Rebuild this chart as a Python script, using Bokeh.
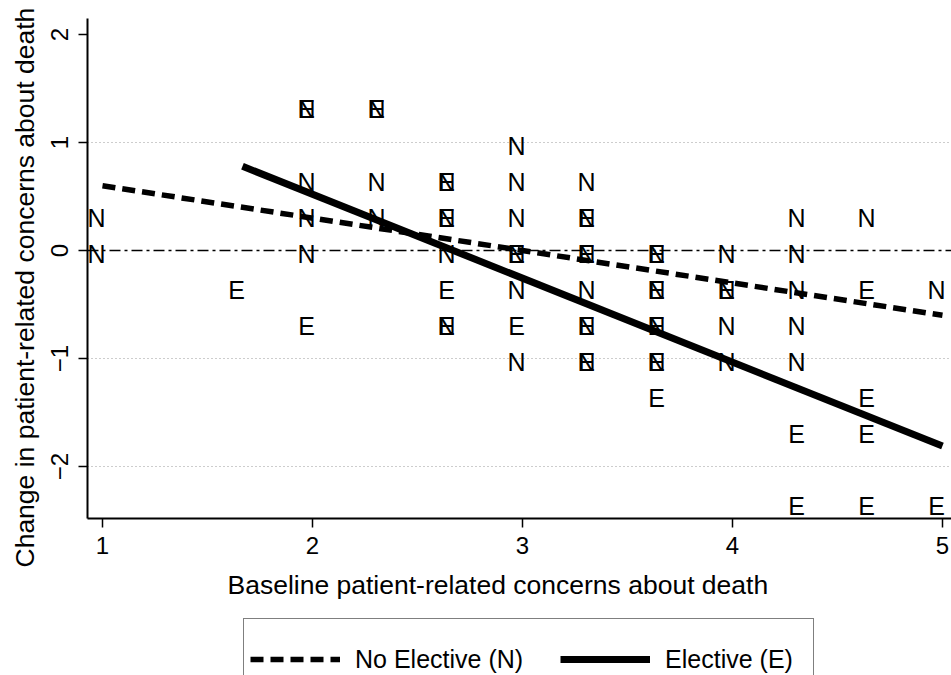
from bokeh.plotting import figure
from bokeh.layouts import column
from bokeh.models import Range1d, FixedTicker, Span, Legend, LegendItem, Title
from bokeh.core.properties import value
from bokeh.embed import file_html
from bokeh.resources import INLINE

T = 1.0 / 3.0

# No Elective (N) observations: baseline score, change score
n_x = [1, 1,
       2, 2, 2, 2,
       2 + T, 2 + T, 2 + T,
       2 + 2*T, 2 + 2*T, 2 + 2*T, 2 + 2*T,
       3, 3, 3, 3, 3, 3,
       3 + T, 3 + T, 3 + T, 3 + T, 3 + T, 3 + T,
       3 + 2*T, 3 + 2*T, 3 + 2*T, 3 + 2*T,
       4, 4, 4, 4,
       4 + T, 4 + T, 4 + T, 4 + T, 4 + T,
       4 + 2*T,
       5]
n_y = [T, 0,
       1 + T, 2*T, T, 0,
       1 + T, 2*T, T,
       2*T, T, 0, -2*T,
       1, 2*T, T, 0, -T, -1,
       2*T, T, 0, -T, -2*T, -1,
       0, -T, -2*T, -1,
       0, -T, -2*T, -1,
       T, 0, -T, -2*T, -1,
       T,
       -T]

# Elective (E) observations
e_x = [1 + 2*T,
       2, 2,
       2 + T,
       2 + 2*T, 2 + 2*T, 2 + 2*T, 2 + 2*T,
       3, 3,
       3 + T, 3 + T, 3 + T, 3 + T,
       3 + 2*T, 3 + 2*T, 3 + 2*T, 3 + 2*T, 3 + 2*T,
       4,
       4 + T, 4 + T,
       4 + 2*T, 4 + 2*T, 4 + 2*T, 4 + 2*T,
       5]
e_y = [-T,
       1 + T, -2*T,
       1 + T,
       2*T, T, -T, -2*T,
       0, -2*T,
       T, 0, -2*T, -1,
       0, -T, -2*T, -1, -1 - T,
       -T,
       -1 - 2*T, -2 - T,
       -T, -1 - T, -1 - 2*T, -2 - T,
       -2 - T]

# Fitted regression lines
n_fit_x = [1.0, 5.0]
n_fit_y = [0.60, -0.60]
e_fit_x = [1 + 2*T, 5.0]
e_fit_y = [0.78, -1.81]

x_ticks = [1, 2, 3, 4, 5]
y_ticks = [-2, -1, 0, 1, 2]
grid_levels = [-2, -1, 1]
ref_level = 0

x_title = "Baseline patient-related concerns about death"
y_title = "Change in patient-related concerns about death"
legend_labels = ["No Elective (N)", "Elective (E)"]

FONT = "Liberation Sans"
N_STYLE = dict(line_color="black", line_width=5.5, line_dash="13 7")
E_STYLE = dict(line_color="black", line_width=7)

p = figure(width=951, height=616, output_backend="svg", toolbar_location=None,
           x_range=Range1d(0.9286, 5.043), y_range=Range1d(-2.481, 2.148),
           min_border_left=87, min_border_right=0, min_border_top=18,
           min_border_bottom=98)
p.outline_line_color = None
p.background_fill_color = "white"
p.border_fill_color = "white"

# grid
p.xgrid.visible = False
p.ygrid.ticker = FixedTicker(ticks=grid_levels)
p.ygrid.grid_line_color = "#9a9a9a"
p.ygrid.grid_line_width = 1
p.ygrid.grid_line_dash = "1 3"

# axes
for ax in (p.xaxis[0], p.yaxis[0]):
    ax.axis_line_color = "black"
    ax.axis_line_width = 2
    ax.major_tick_line_color = "black"
    ax.major_tick_line_width = 1.5
    ax.major_tick_out = 9
    ax.major_tick_in = 0
    ax.minor_tick_line_color = None
    ax.major_label_text_font = FONT
    ax.major_label_text_font_size = "24px"
    ax.major_label_text_color = "black"
p.xaxis.ticker = FixedTicker(ticks=x_ticks)
p.yaxis.ticker = FixedTicker(ticks=y_ticks)
p.xaxis.major_label_standoff = 9
p.yaxis.major_label_standoff = 10
p.yaxis.major_label_orientation = "vertical"

# reference line at zero
p.add_layout(Span(location=ref_level, dimension="width", line_color="black",
                  line_width=1.5, line_dash="11 4 3 4"))

# marker letters
common = dict(text_font=value(FONT), text_font_size="25px", text_align="center",
              text_baseline="middle", text_color="black", x_offset=-6, y_offset=3)
p.text(x=e_x, y=e_y, text=["E"] * len(e_x), **common)
p.text(x=n_x, y=n_y, text=["N"] * len(n_x), **common)

# fitted lines
p.line(n_fit_x, n_fit_y, **N_STYLE)
p.line(e_fit_x, e_fit_y, **E_STYLE)

# axis titles as side-panel titles
p.add_layout(Title(text=y_title, align="left", offset=-49, vertical_align="middle",
                   standoff=16, text_font=FONT, text_font_size="26.5px",
                   text_font_style="normal", text_color="black"), "left")
p.add_layout(Title(text=x_title, align="left", offset=140, vertical_align="middle",
                   standoff=24, text_font=FONT, text_font_size="26.5px",
                   text_font_style="normal", text_color="black"), "below")

# legend strip below the chart (its box runs past the page bottom, as in the source)
lg = figure(width=951, height=59, output_backend="svg", toolbar_location=None,
            x_range=Range1d(-3, -2), y_range=Range1d(-3, -2),
            x_axis_type=None, y_axis_type=None,
            min_border_left=0, min_border_right=0, min_border_top=0,
            min_border_bottom=0)
lg.outline_line_color = None
lg.xgrid.visible = False
lg.ygrid.visible = False
lg.background_fill_color = "white"
lg.border_fill_color = "white"
# key renderers reuse the fit data; the strip's ranges keep them out of view
n_key = lg.line(n_fit_x, n_fit_y, **N_STYLE)
e_key = lg.line(e_fit_x, e_fit_y, **E_STYLE)

legend = Legend(items=[LegendItem(label=legend_labels[0], renderers=[n_key]),
                       LegendItem(label=legend_labels[1], renderers=[e_key])],
                orientation="horizontal", location=(156, -25),
                glyph_width=90, glyph_height=68, label_standoff=15, spacing=37,
                padding=6, label_width=142, margin=0,
                border_line_color="black", border_line_width=1.5,
                background_fill_color="white", background_fill_alpha=1.0,
                label_text_font=FONT, label_text_font_size="25px",
                label_text_color="black")
lg.add_layout(legend)

layout = column(p, lg, spacing=0)
open("out.html", "w").write(file_html(layout, INLINE))
